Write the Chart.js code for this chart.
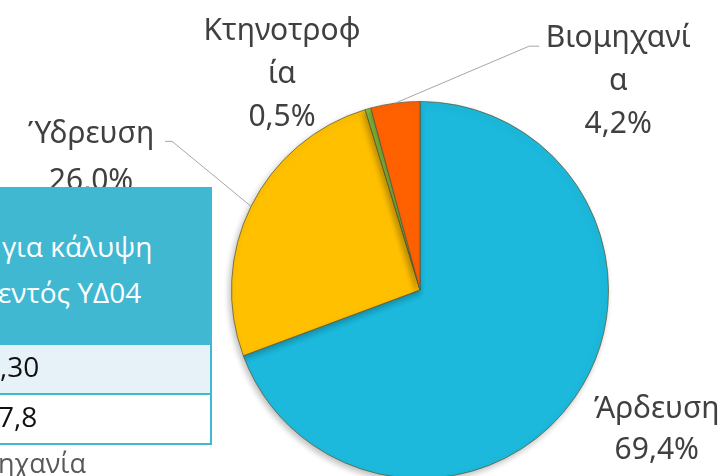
<!DOCTYPE html>
<html>
<head>
<meta charset="utf-8">
<script src="https://cdn.jsdelivr.net/npm/chart.js@4"></script>
<style>
  html, body { margin: 0; padding: 0; background: #fff; overflow: hidden; }
  #wrap { position: relative; width: 727px; height: 476px; overflow: hidden; }
  #myChart { position: absolute; left: 0; top: 0; }
  .tbl { position: absolute; left: -4px; top: 187px; width: 212px; border: 2px solid #41B8D2; border-top: none;
         font-family: "Open Sans", "Noto Sans", sans-serif; }
  .tbl .head { background: #41B8D2; height: 156px; color: #fff; font-size: 28px; position: relative; }
  .tbl .row { height: 48px; font-size: 28px; color: #111; position: relative; border-top: 2px solid #41B8D2; }
  .tbl .row1 { background: #E6F2F7; }
  .tbl span { position: absolute; white-space: nowrap; line-height: 1; }
  .below { position: absolute; left: -2px; top: 449px; font-size: 27px; color: #595959;
           font-family: "Open Sans", "Noto Sans", sans-serif; line-height: 1; }
</style>
</head>
<body>
<div id="wrap">
  <canvas id="myChart" width="727" height="482"></canvas>
  <div class="tbl">
    <div class="head">
      <span style="left:4px; top:45px;">για κάλυψη</span>
      <span style="left:0px; top:91px;">εντός ΥΔ04</span>
    </div>
    <div class="row row1"><span style="left:2px; top:7px;">,30</span></div>
    <div class="row"><span style="left:0px; top:7px;">7,8</span></div>
  </div>
  <div class="below">ηχανία</div>
</div>
<script>
// データ
const categories = ["Άρδευση", "Ύδρευση", "Κτηνοτροφία", "Βιομηχανία"];
const values = [69.4, 26.0, 0.5, 4.2];
// 表示用に折り返したラベル
const labelLines = [["Άρδευση"], ["Ύδρευση"], ["Κτηνοτροφ", "ία"], ["Βιομηχανί", "α"]];
const colors = ["#1CB9DC", "#FFC000", "#8CC63F", "#FF6100"];

/**
 * 外側ラベルとリーダー線を描くプラグイン
 * 位置は各円弧の外周中点からの相対値
 */
const outLabels = {
  id: "outLabels",
  afterDatasetsDraw(chart, args, opts) {
    const ctx = chart.ctx;
    const meta = chart.getDatasetMeta(0);
    ctx.save();
    meta.data.forEach(function (arc, i) {
      const p = arc.getProps(["x", "y", "startAngle", "endAngle", "outerRadius"], true);
      const mid = (p.startAngle + p.endAngle) / 2;
      const ex = p.x + p.outerRadius * Math.cos(mid);
      const ey = p.y + p.outerRadius * Math.sin(mid);
      const o = opts.items[i];
      // リーダー線
      if (o.leader) {
        ctx.beginPath();
        ctx.strokeStyle = "#A6A6A6";
        ctx.lineWidth = 1;
        ctx.moveTo(ex, ey);
        o.leader.forEach(function (pt) {
          ctx.lineTo(ex + pt[0], ey + pt[1]);
        });
        ctx.stroke();
      }
      const pct = values[i].toFixed(1).replace(".", ",") + "%";
      const lines = labelLines[i].concat([pct]);
      ctx.fillStyle = "#404040";
      ctx.font = '30px "Noto Sans", sans-serif';
      ctx.textAlign = "center";
      ctx.textBaseline = "middle";
      lines.forEach(function (t, k) {
        ctx.fillText(t, ex + o.dx, ey + o.dy + k * o.lh);
      });
    });
    ctx.restore();
  },
};

// 円の影
const pieShadow = {
  id: "pieShadow",
  beforeDatasetsDraw(chart) {
    const ctx = chart.ctx;
    ctx.save();
    ctx.shadowColor = "rgba(0,0,0,0.25)";
    ctx.shadowBlur = 6;
    ctx.shadowOffsetX = -2;
    ctx.shadowOffsetY = 3;
  },
  afterDatasetsDraw(chart) {
    chart.ctx.restore();
  },
};

const ctx = document.getElementById("myChart").getContext("2d");
const myChart = new Chart(ctx, {
  type: "pie",
  data: {
    labels: categories,
    datasets: [
      {
        data: values,
        backgroundColor: colors,
        borderColor: "rgba(95,90,55,0.75)",
        borderWidth: 1,
      },
    ],
  },
  options: {
    responsive: false,
    animation: false,
    layout: { padding: { left: 231, right: 118, top: 101, bottom: 3 } },
    plugins: {
      legend: { display: false },
      tooltip: { enabled: false },
      outLabels: {
        items: [
          { dx: 82, dy: 12, lh: 41 },
          { dx: -160, dy: -72, lh: 47 },
          { dx: -86, dy: -77, lh: 43 },
          { dx: 223, dy: -65, lh: 43, leader: [[134, -57], [144, -57]] },
        ].map(function (it, i) {
          // Ύδρευση のリーダー線
          if (i === 1) it.leader = [[-79, -65], [-86, -65]];
          return it;
        }),
      },
    },
  },
  plugins: [pieShadow, outLabels],
});
</script>
</body>
</html>
